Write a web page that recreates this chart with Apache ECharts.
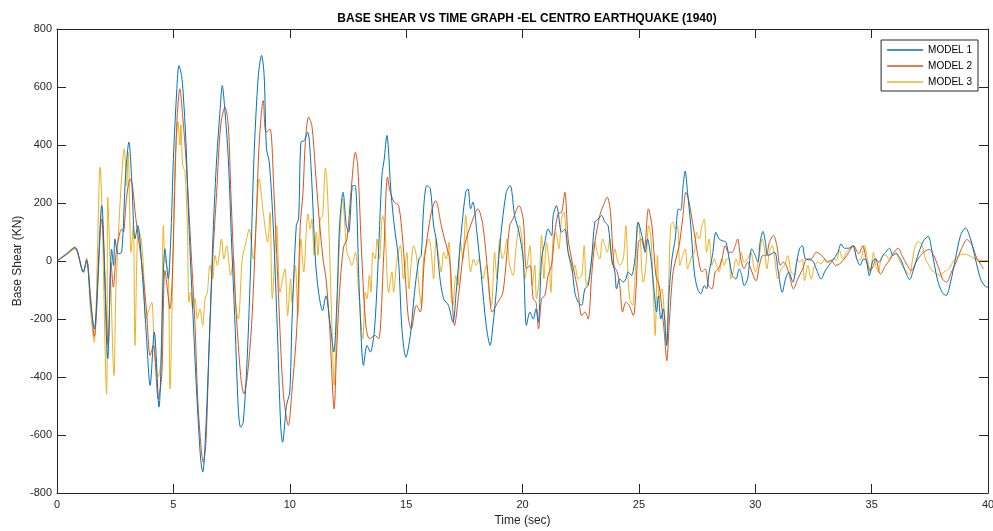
<!DOCTYPE html>
<html>
<head>
<meta charset="utf-8">
<script src="https://cdn.jsdelivr.net/npm/echarts@6/dist/echarts.min.js"></script>
<style>
  html, body { margin: 0; padding: 0; background: #fff; }
  #chart { width: 993px; height: 531px; }
</style>
</head>
<body>
<div id="chart"></div>
<script>
// Base shear response (kN) of three building models, El Centro 1940 record
const seriesNames = ['MODEL 1', 'MODEL 2', 'MODEL 3'];
const xTicks = [0, 5, 10, 15, 20, 25, 30, 35, 40];
const yTicks = [-800, -600, -400, -200, 0, 200, 400, 600, 800];

// MODEL 1
const time1 = [0, 0.4, 0.77, 1.13, 1.27, 1.45, 1.6, 1.92, 2.18, 2.35, 2.43, 2.49, 2.63, 2.78, 2.95, 3.09, 3.21, 3.35, 3.47, 3.67, 3.85, 4.0, 4.18, 4.38, 4.64, 4.78, 4.9, 5.0, 5.15, 5.24,
  5.35, 5.42, 5.54, 5.67, 5.83, 6.0, 6.17, 6.26, 6.4, 6.57, 6.72, 6.86, 7.0, 7.1, 7.22, 7.36, 7.5, 7.65, 7.79, 7.89, 8.0, 8.17, 8.33, 8.46, 8.65, 8.79, 8.9, 9.0, 9.12, 9.29, 9.46, 9.61, 9.69, 9.86, 10.0,
  10.09, 10.28, 10.38, 10.48, 10.62, 10.77, 10.91, 11.1, 11.24, 11.41, 11.55, 11.74, 11.89, 12.03, 12.14, 12.29, 12.43, 12.53, 12.71, 12.81, 12.99, 13.17, 13.32, 13.46, 13.63, 13.77, 13.96, 14.06, 14.17, 14.35, 14.49, 14.67, 14.82, 14.99,
  15.18, 15.36, 15.55, 15.65, 15.75, 15.89, 16.04, 16.18, 16.29, 16.44, 16.61, 16.82, 17.01, 17.15, 17.37, 17.56, 17.66, 17.77, 17.87, 18.04, 18.23, 18.44, 18.61, 18.73, 18.87, 19.04, 19.3, 19.47, 19.66, 19.85,
  20.03, 20.17, 20.32, 20.46, 20.58, 20.68, 20.82, 20.96, 21.1, 21.25, 21.32, 21.46, 21.53, 21.68, 21.82, 21.96, 22.11, 22.25, 22.39, 22.54, 22.68, 22.82, 22.97, 23.11, 23.25, 23.4, 23.54, 23.68, 23.83, 23.97, 24.04, 24.18, 24.33, 24.44, 24.54, 24.68, 24.83, 24.97,
  25.16, 25.27, 25.37, 25.52, 25.66, 25.76, 25.84, 25.94, 26.05, 26.19, 26.3, 26.42, 26.56, 26.7, 26.8, 26.9, 26.99, 27.09, 27.23, 27.38, 27.52, 27.66, 27.81, 27.91, 28.02, 28.16, 28.31, 28.45, 28.59, 28.74, 28.88, 29.02, 29.17, 29.31, 29.42, 29.52, 29.67, 29.85,
  30.0, 30.11, 30.21, 30.33, 30.44, 30.54, 30.83, 30.97, 31.16, 31.3, 31.44, 31.62, 31.76, 31.9, 32.02, 32.16, 32.45, 32.62, 32.83, 32.98, 33.16, 33.33, 33.55, 33.69, 33.83, 34.02, 34.19, 34.36, 34.51, 34.65, 34.77, 34.9,
  35.05, 35.17, 35.31, 35.48, 35.6, 35.77, 35.91, 36.05, 36.24, 36.46, 36.63, 36.81, 37.03, 37.24, 37.43, 37.6, 37.82, 38.03, 38.2, 38.39, 38.6, 38.82, 39.03, 39.25, 39.46, 39.68, 39.89, 40.0];
const shear1 = [0, 25, 48, -38, 0, -150, -234, 191, -337, 40, -15, 76, 25, 30, 300, 410, 283, 76, 122, -50, -268, -429, -245, -504, 42, -61, 100, 350, 594, 674,
  640, 580, 410, 122, -165, -452, -682, -728, -567, -222, 122, 352, 513, 605, 513, 352, 65, -222, -510, -573, -556, -337, 7, 352, 640, 709, 640, 387, 341, 122, -222, -567, -625, -498, -452,
  -222, 122, 145, 410, 415, 444, 329, 7, -108, -171, -120, -222, -314, -130, 122, 237, 122, 99, 260, 260, -108, -360, -291, -314, -245, -50, 295, 352, 433, 237, 122, 7, -234, -332,
  -257, -108, 7, 19, 180, 260, 249, 122, 76, -50, -130, -153, -211, -108, 99, 237, 249, 180, 203, 99, -50, -222, -291, -222, -108, 65, 237, 260, 157, 99,
  7, -222, -176, -200, -165, -211, 7, 65, 110, 88, 157, 191, 169, 99, 110, 30, -15, -108, -142, -153, -96, -85, 7, 134, 145, 157, 134, 122, 7, -38, -96, -62, -73, -62, -38, -50, 7, 134,
  76, 30, 76, 7, -108, -176, -120, -200, -165, -291, -108, 7, 76, 180, 175, 260, 310, 237, 122, -38, -96, -113, -85, -96, -38, 19, 99, 76, 70, 65, 7, -50, -62, -27, -50, -85, -62, 42,
  19, -4, 65, 102, 65, 19, 30, -27, -108, -62, -38, -73, -15, 42, 53, 7, 2, -27, -62, -38, -15, 2, 30, 59, 44, 44, 53, 7, -15, 7, 2, -50,
  0, 7, -4, 19, 30, 44, 19, 25, 7, -38, -64, -27, 30, 71, 85, 30, -62, -108, -119, -73, 7, 88, 114, 76, 7, -62, -88, -90];

// MODEL 2
const time2 = [0, 0.4, 0.77, 1.13, 1.27, 1.45, 1.6, 1.92, 2.2, 2.32, 2.42, 2.56, 2.78, 2.85, 2.99, 3.14, 3.24, 3.38, 3.67, 3.85, 4.0, 4.14, 4.35, 4.5, 4.64, 4.85, 5.15,
  5.28, 5.4, 5.54, 5.74, 5.93, 6.07, 6.29, 6.4, 6.54, 6.69, 6.86, 7.03, 7.22, 7.36, 7.47, 7.65, 7.89, 8.03, 8.18, 8.36, 8.55, 8.69, 8.86, 8.98, 9.15, 9.32, 9.51, 9.72, 9.94,
  10.09, 10.31, 10.45, 10.57, 10.67, 10.81, 10.95, 11.1, 11.24, 11.43, 11.56, 11.71, 11.91, 12.0, 12.14, 12.31, 12.46, 12.63, 12.82, 12.92, 13.1, 13.27, 13.43, 13.67, 13.82, 14.03, 14.2, 14.32, 14.49, 14.68, 14.86, 14.99,
  15.1, 15.22, 15.44, 15.61, 15.79, 16.08, 16.27, 16.51, 16.65, 16.87, 17.08, 17.3, 17.51, 17.87, 18.08, 18.3, 18.52, 18.7, 18.94, 19.16, 19.45, 19.59, 19.85,
  20.03, 20.17, 20.32, 20.46, 20.58, 20.69, 20.82, 20.96, 21.1, 21.25, 21.39, 21.53, 21.68, 21.82, 21.96, 22.11, 22.25, 22.39, 22.54, 22.68, 22.82, 22.97, 23.11, 23.32, 23.47, 23.64, 23.78, 23.93, 24.07, 24.18, 24.3, 24.44, 24.58, 24.76, 24.87, 24.98,
  25.09, 25.23, 25.41, 25.56, 25.73, 25.87, 25.99, 26.09, 26.2, 26.3, 26.45, 26.59, 26.73, 26.88, 27.02, 27.13, 27.28, 27.42, 27.56, 27.71, 27.85, 27.99, 28.14, 28.28, 28.42, 28.57, 28.71, 28.85, 29.0, 29.14, 29.24, 29.38, 29.52, 29.67, 29.81, 29.97,
  30.04, 30.18, 30.33, 30.47, 30.61, 30.78, 30.93, 31.07, 31.21, 31.33, 31.47, 31.64, 31.83, 32.04, 32.22, 32.4, 32.62, 32.76, 32.93, 33.08, 33.26, 33.45, 33.62, 33.83, 34.02, 34.22, 34.45, 34.62, 34.79, 34.94, 35.08,
  35.17, 35.38, 35.6, 35.81, 35.95, 36.14, 36.31, 36.53, 36.71, 36.91, 37.17, 37.46, 37.67, 37.89, 38.06, 38.22, 38.43, 38.63, 38.86, 39.1, 39.32, 39.53, 39.72, 39.8];
const shear2 = [0, 22, 45, -35, 5, -130, -260, 145, -290, -5, -90, 40, 110, 100, 220, 283, 260, 151, -27, -176, -326, -291, -475, -395, -33, -165, 479,
  594, 500, 353, 65, -222, -510, -694, -625, -280, 7, 237, 467, 530, 467, 237, -108, -395, -458, -395, -222, 122, 410, 553, 444, 455, 237, -108, -452, -567,
  -452, -222, 122, 237, 410, 496, 467, 318, 168, 7, -62, -222, -510, -337, -108, 48, 76, 237, 375, 329, 7, -222, -268, -257, -268, 7, 289, 237, 203, 191, 65, -85,
  -200, -234, -153, -176, 7, 168, 208, 122, 76, 7, -222, -85, 53, 145, 180, 122, -50, -176, -142, -108, 122, 145, 191,
  145, -27, -15, -130, -142, -234, -130, -119, -50, -15, 99, 162, 168, 237, 76, 7, -50, -108, -188, -176, -200, -50, 65, 157, 191, 220, 168, -15, -38, -85, -176, -142, -153, -188, -108, 65,
  76, 42, 180, 122, -50, -85, -165, -245, -344, -222, -50, 7, 53, 145, 237, 214, 145, 76, 7, -38, -27, -85, -96, -38, -27, 7, 53, 30, 30, 53, 76, 7, -27, -4, -27, -62,
  -68, -15, 19, 19, 65, 88, 53, -15, -4, -15, -50, -96, -62, -27, 7, 7, 30, 25, 13, -4, 2, -15, -10, 7, 30, 53, 25, 53, -4, -33, -15,
  7, -45, -15, 7, 30, 44, 19, -15, -33, -4, 25, 40, 19, -27, -64, -73, -38, -4, 42, 74, 53, 7, -15, -27];

// MODEL 3
const time3 = [0, 0.4, 0.77, 1.13, 1.27, 1.46, 1.6, 1.85, 2.13, 2.18, 2.28, 2.45, 2.53, 2.71, 2.89, 2.99, 3.06, 3.18, 3.28, 3.35, 3.49, 3.61, 3.71, 3.81, 3.92, 4.07, 4.14, 4.21, 4.35, 4.47, 4.57, 4.64, 4.78, 4.85,
  5.07, 5.2, 5.28, 5.32, 5.4, 5.5, 5.6, 5.67, 5.74, 5.83, 5.93, 6.03, 6.14, 6.26, 6.36, 6.46, 6.57, 6.69, 6.79, 6.89, 7.07, 7.17, 7.29, 7.46, 7.58, 7.69, 7.79, 7.96, 8.12, 8.26, 8.43, 8.69, 8.86, 9.05, 9.15, 9.25, 9.44, 9.58, 9.79, 9.91, 10.04,
  10.09, 10.24, 10.35, 10.48, 10.6, 10.78, 10.88, 10.95, 11.05, 11.14, 11.21, 11.31, 11.41, 11.53, 11.6, 11.7, 11.81, 11.91, 12.03, 12.14, 12.27, 12.39, 12.46, 12.57, 12.67, 12.82, 12.96, 13.14, 13.24, 13.32, 13.42, 13.49, 13.57, 13.67, 13.75, 13.85, 13.99, 14.08, 14.25, 14.39, 14.46, 14.61, 14.75, 14.89, 15.03,
  15.12, 15.22, 15.32, 15.44, 15.55, 15.65, 15.75, 15.87, 15.98, 16.08, 16.18, 16.29, 16.41, 16.51, 16.61, 16.72, 16.84, 16.94, 17.01, 17.13, 17.23, 17.33, 17.44, 17.56, 17.66, 17.77, 17.9, 18.01, 18.13, 18.3, 18.44, 18.56, 18.67, 18.8, 18.9, 19.02, 19.13, 19.23, 19.33, 19.45, 19.59, 19.73, 19.87, 19.99,
  20.1, 20.2, 20.32, 20.42, 20.53, 20.6, 20.72, 20.82, 20.92, 21.03, 21.15, 21.22, 21.32, 21.43, 21.56, 21.68, 21.78, 21.89, 22.01, 22.15, 22.25, 22.39, 22.54, 22.65, 22.75, 22.85, 22.97, 23.11, 23.21, 23.32, 23.44, 23.54, 23.64, 23.75, 23.87, 23.97, 24.07, 24.18, 24.33, 24.44, 24.54, 24.61, 24.73, 24.83, 24.97, 25.07,
  25.13, 25.19, 25.3, 25.42, 25.52, 25.62, 25.7, 25.8, 25.87, 25.99, 26.09, 26.19, 26.27, 26.37, 26.47, 26.56, 26.66, 26.76, 26.88, 26.99, 27.09, 27.19, 27.28, 27.38, 27.48, 27.59, 27.71, 27.81, 27.91, 28.02, 28.14, 28.24, 28.34, 28.45, 28.57, 28.67, 28.77, 28.88, 28.95, 29.05, 29.17, 29.28, 29.4, 29.52, 29.67, 29.81, 29.95,
  30.01, 30.15, 30.3, 30.4, 30.5, 30.61, 30.73, 30.84, 30.97, 31.11, 31.26, 31.4, 31.54, 31.69, 31.8, 31.9, 32.02, 32.12, 32.26, 32.4, 32.55, 32.69, 32.83, 32.98, 33.16, 33.33, 33.48, 33.62, 33.76, 33.91, 34.08, 34.22, 34.41, 34.55, 34.69, 34.84, 34.94, 35.08,
  35.17, 35.28, 35.38, 35.48, 35.62, 35.74, 35.88, 36.03, 36.17, 36.31, 36.46, 36.63, 36.74, 36.88, 37.03, 37.17, 37.31, 37.46, 37.6, 37.82, 37.96, 38.1, 38.32, 38.53, 38.75, 38.96, 39.18, 39.46, 39.75, 40.0];
const shear3 = [0, 22, 42, -40, 10, -188, -280, 323, -458, 220, 7, -395, -100, 200, 387, 260, 375, 30, 122, -291, 110, 76, -15, -200, -176, -142, -222, -337, -400, -337, 122, 7, -38, -441,
  330, 480, 400, 470, 330, 306, 122, -142, -108, -165, -130, -200, -165, -222, -130, -108, -15, -62, 19, -15, 76, 7, 53, -50, 7, -165, -200, 7, 65, 110, 7, 283, 168, 65, 168, -130, 122, -108, -27, -188, -62,
  -142, -15, -188, 76, -38, 162, 110, 145, 19, 99, 19, 145, 157, 320, 272, 65, -222, -429, -165, 65, 214, 99, 30, 7, -15, 30, -108, -268, -108, -130, -50, -108, 30, 7, 76, 7, 157, 122, -108, -38, -108, 7, 53, -62, 30,
  -96, -4, 53, 19, -85, -153, 7, 53, 76, 30, -62, 76, 7, -38, 30, 7, 65, -130, -153, -50, -85, 65, 7, 157, 53, -38, 7, -15, 7, -62, -15, -108, -153, 30, -62, 76, 7, 30, 76, -15, -50, 53, 122, 65,
  -62, -15, 53, -85, -15, -130, -62, 88, -62, 65, -15, -108, 88, 99, 42, 145, 168, 76, 7, -38, -15, -62, -50, 53, -85, -62, 7, 65, 30, 7, 76, 53, 30, 76, -15, 42, 7, -15, 7, 122, -62, -130, -153, -62, 134, 65,
  -38, -73, -15, 122, 76, -108, -257, 19, -130, -96, -176, -280, -108, 122, 134, 110, 122, -15, 19, 42, -27, -4, 19, 30, 99, 76, 122, 145, 30, 76, -15, 7, -15, -38, 7, -15, 7, 7, -62, -38, 7, -15, 30, -4, 7, 30, -27,
  -38, 7, 76, 42, -27, 30, 53, 7, -62, -27, -15, 19, -38, -50, 7, -4, 7, -68, -15, -62, -15, -4, -10, 7, -4, 7, 2, 36, 7, 30, 42, 51, 2, 7, 53, -4, -38, 30,
  -15, -38, -4, 17, 21, 7, 19, 30, 7, -15, -33, -48, -4, 53, 67, 53, 7, -15, -33, -45, -50, -38, -27, 2, 19, 24, 19, 7, 2, 2];

const colors = ['#0072BD', '#D95319', '#EDB120'];
const times = [time1, time2, time3];
const shears = [shear1, shear2, shear3];

const pair = (ts, vs) => ts.map((t, i) => [t, vs[i]]);

const axisColor = '#262626';
const fontFamily = 'Liberation Sans, Arial, sans-serif';
const labelFont = { color: axisColor, fontFamily: fontFamily, fontSize: 11 };

const baseX = {
  type: 'value', min: 0, max: 40, interval: 5,
  axisLine: { show: true, onZero: false, lineStyle: { color: axisColor, width: 1 } },
  axisTick: { show: true, inside: true, length: 9, lineStyle: { color: axisColor } },
  splitLine: { show: false }
};
const baseY = {
  type: 'value', min: -800, max: 800, interval: 200,
  axisLine: { show: true, onZero: false, lineStyle: { color: axisColor, width: 1 } },
  axisTick: { show: true, inside: true, length: 9, lineStyle: { color: axisColor } },
  splitLine: { show: false }
};

const chart = echarts.init(document.getElementById('chart'), null, { renderer: 'canvas' });
chart.setOption({
  backgroundColor: '#ffffff',
  animation: false,
  title: {
    text: 'BASE SHEAR VS TIME GRAPH -EL CENTRO EARTHQUAKE (1940)',
    left: 522, top: 8, textAlign: 'center',
    textStyle: { fontFamily: fontFamily, fontSize: 12, fontWeight: 'bold', color: '#000' }
  },
  // vertical axis title, placed beside the tick labels
  graphic: [{
    type: 'text',
    x: 18, y: 261,
    rotation: Math.PI / 2,
    style: {
      text: 'Base Shear (KN)',
      fill: axisColor,
      font: '12px ' + fontFamily,
      align: 'center',
      verticalAlign: 'middle'
    }
  }],
  grid: { left: 57, right: 5, top: 29, bottom: 38, containLabel: false, outerBoundsMode: 'none' },
  legend: {
    data: seriesNames.map(n => ({ name: n, icon: 'rect' })),
    orient: 'vertical',
    right: 15, top: 40,
    itemWidth: 36, itemHeight: 1.5, itemGap: 4,
    padding: [4, 6, 3, 6],
    borderColor: '#262626', borderWidth: 1,
    backgroundColor: '#fff',
    textStyle: { color: '#000', fontFamily: fontFamily, fontSize: 10, lineHeight: 12 }
  },
  xAxis: [
    Object.assign({}, baseX, {
      position: 'bottom',
      name: 'Time (sec)', nameLocation: 'middle', nameGap: 22,
      nameTextStyle: Object.assign({}, labelFont, { fontSize: 12 }),
      axisLabel: Object.assign({ margin: 6 }, labelFont)
    }),
    Object.assign({}, baseX, { position: 'top', axisLabel: { show: false } })
  ],
  yAxis: [
    Object.assign({}, baseY, {
      position: 'left',
      axisLabel: Object.assign({ margin: 5 }, labelFont)
    }),
    Object.assign({}, baseY, { position: 'right', axisLabel: { show: false } })
  ],
  series: seriesNames.map((name, k) => ({
    name: name,
    type: 'line',
    xAxisIndex: 0, yAxisIndex: 0,
    data: pair(times[k], shears[k]),
    symbol: 'none',
    smooth: 0.3,
    lineStyle: { color: colors[k], width: 1 },
    itemStyle: { color: colors[k] },
    z: 3 - k
  }))
});
</script>
</body>
</html>
